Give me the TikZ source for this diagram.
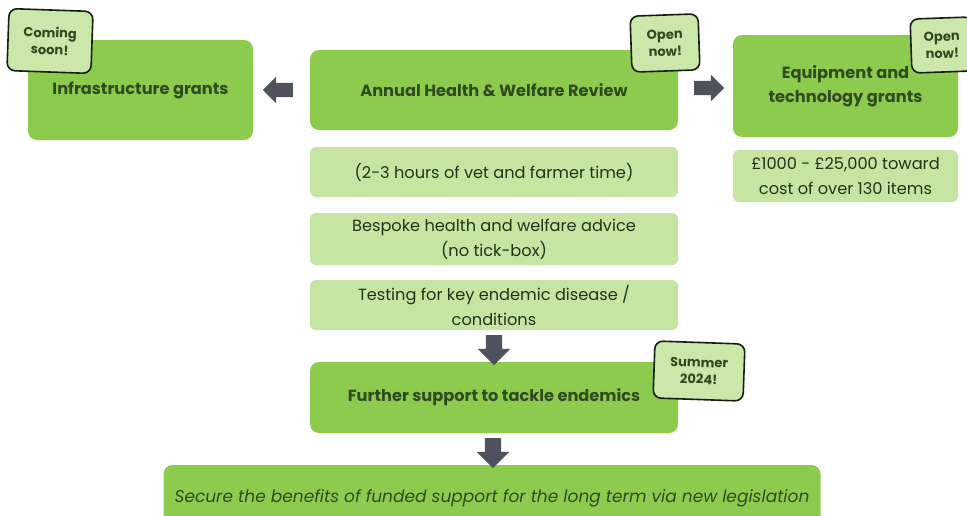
\documentclass[tikz,border=0pt]{standalone}
\usepackage{fontspec}
\setmainfont{Poppins}
\usetikzlibrary{shapes.arrows,calc}
\definecolor{leaf}{HTML}{8DCB4E}
\definecolor{pale}{HTML}{C6E4A2}
\definecolor{tag}{HTML}{CBE7AA}
\definecolor{ink}{HTML}{2F4A1E}
\definecolor{slate}{HTML}{4D525C}
\begin{document}
\begin{tikzpicture}[x=1pt,y=-1pt,line cap=round,line join=round,
  mainbox/.style={fill=leaf,rounded corners=9pt,text=ink,align=center,inner sep=0pt,
    font=\bfseries\fontsize{16.2}{24}\selectfont},
  subbox/.style={fill=pale,rounded corners=6pt,text=ink!70!black,align=center,inner sep=0pt,
    font=\fontsize{16.2}{25}\selectfont},
  badge/.style={draw=ink!40!black,line width=1.6pt,fill=tag,rounded corners=8pt,text=ink,
    align=center,inner sep=0pt,font=\bfseries\fontsize{13}{17}\selectfont},
  blockarrow/.style={single arrow,fill=slate,inner xsep=0pt,inner ysep=7pt,minimum height=30pt,
    single arrow head extend=6pt},
  downarrow/.style={blockarrow,rotate=-90,inner ysep=8pt,single arrow head extend=8pt}]
\clip (0,0) rectangle (967,515);
\fill[white] (0,0) rectangle (967,515);
% top row
\node[mainbox,minimum width=225pt,minimum height=100pt] (infra) at (140.5,90) {Infrastructure grants};
\node[mainbox,minimum width=368pt,minimum height=80pt] (review) at (494,90) {Annual Health \& Welfare Review};
\node[mainbox,minimum width=225pt,minimum height=102pt] (equip) at (845.5,86) {Equipment and\\technology grants};
\node[subbox,minimum width=225pt,minimum height=52pt] (money) at (845.5,176) {£1000 - £25,000 toward\\cost of over 130 items};
% review details
\node[subbox,minimum width=368pt,minimum height=50pt] (hours) at (494,172) {(2-3 hours of vet and farmer time)};
\node[subbox,minimum width=368pt,minimum height=52pt] (advice) at (494,239) {Bespoke health and welfare advice\\(no tick-box)};
\node[subbox,minimum width=368pt,minimum height=50pt] (testing) at (494,305) {Testing for key endemic disease /\\conditions};
% next steps
\node[mainbox,minimum width=368pt,minimum height=71pt] (further) at (494,397.5) {Further support to tackle endemics};
\node[mainbox,minimum width=657pt,minimum height=70pt,font=\itshape\fontsize{17}{20}\selectfont] (secure) at (492,500)
  {\raisebox{9pt}{Secure the benefits of funded support for the long term via new legislation}};
% arrows
\node[blockarrow,shape border rotate=180] (toinfra) at ($(infra.east)!0.5!(review.west)$) {};
\node[blockarrow] (toequip) at ($(review.east)!0.5!(equip.west)$) {};
\node[downarrow] (tofurther) at ($(testing.south)!0.5!(further.north)$) {};
\node[downarrow] (tosecure) at ($(further.south)!0.5!(secure.north)$) {};
% badges
\node[badge,minimum width=84pt,minimum height=62pt,rotate=-2] (soon) at (50,41) {Coming\\soon!};
\node[badge,minimum width=68pt,minimum height=56pt,rotate=2] (opena) at (665,43) {Open\\now!};
\node[badge,minimum width=62pt,minimum height=54pt,rotate=2] (openb) at (942,45) {Open\\now!};
\node[badge,minimum width=90pt,minimum height=57pt,rotate=-2] (summer) at (699,371) {Summer\\2024!};
\end{tikzpicture}
\end{document}
